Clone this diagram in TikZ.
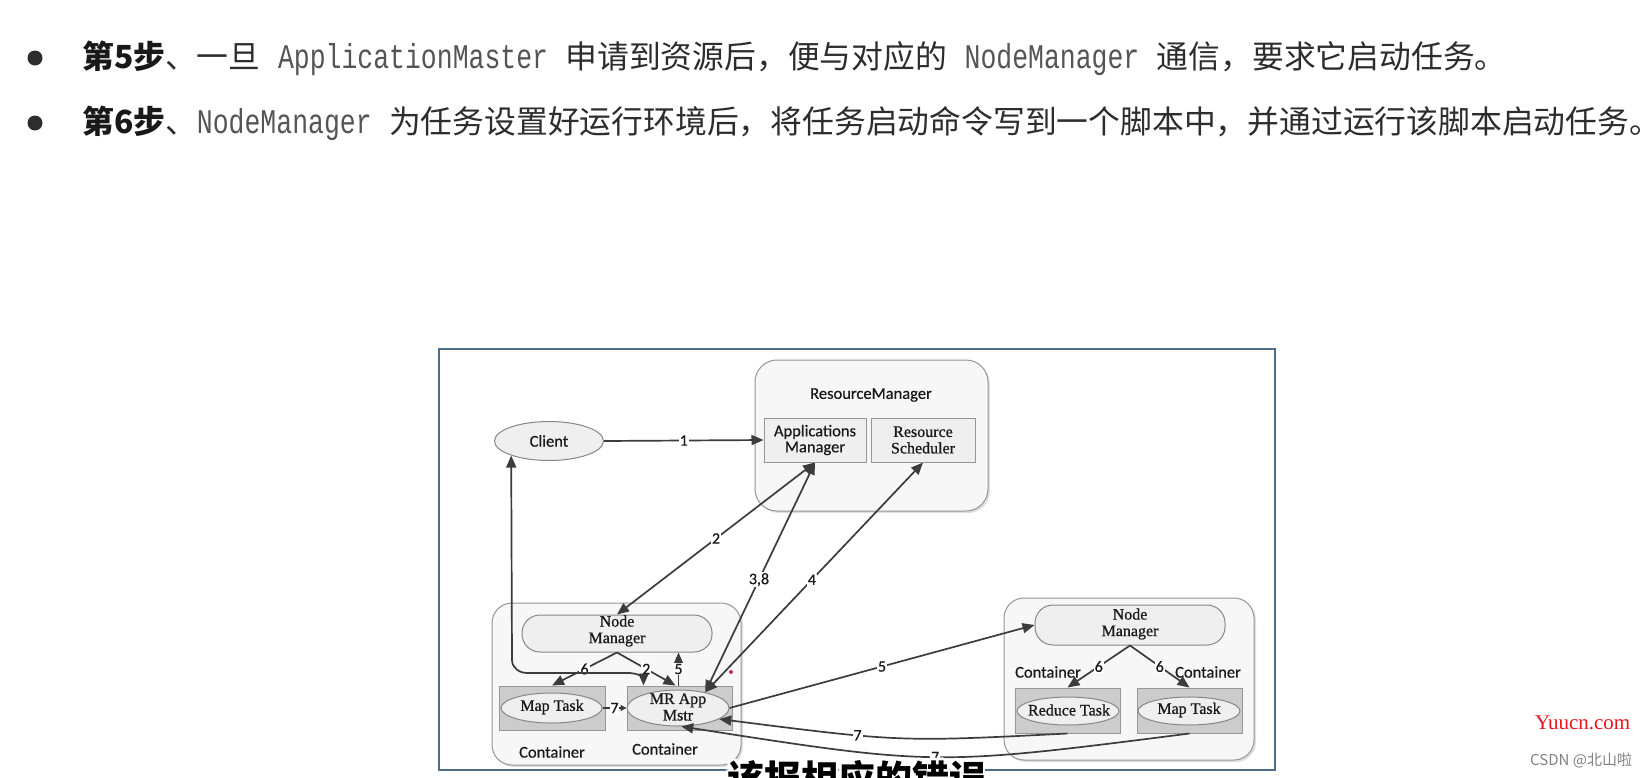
\documentclass[tikz,border=0pt]{standalone}
\usepackage{fontspec}
\setmainfont{Liberation Serif}
\newfontfamily\fcjk{Noto Sans CJK SC}
\newfontfamily\fmono{Liberation Mono}[FakeStretch=0.765]
\newfontfamily\fcal{Carlito}[FakeBold=0.6]
\newfontfamily\ftms{Liberation Serif}[FakeBold=0.8]
\newfontfamily\fwm{Liberation Serif}
\usetikzlibrary{arrows.meta,shapes.geometric,shadows,calc}
\definecolor{arrc}{RGB}{60,60,60}
\definecolor{txtc}{RGB}{25,25,25}
\definecolor{hdrc}{RGB}{45,45,45}
\definecolor{monoc}{RGB}{85,85,85}
\definecolor{framec}{RGB}{79,110,140}
\definecolor{boxc}{RGB}{150,150,150}
\definecolor{ellc}{RGB}{135,135,135}
\definecolor{bigf}{RGB}{247,247,247}
\definecolor{litef}{RGB}{239,239,239}
\definecolor{taskf}{RGB}{204,204,204}
\definecolor{wmred}{RGB}{235,20,30}
\definecolor{wmgray}{RGB}{130,130,130}
\definecolor{dotc}{RGB}{200,40,90}
\newcommand\hdrmono[1]{{\fmono\fontsize{34.6}{36}\selectfont\color{monoc}#1}}
\begin{document}
\begin{tikzpicture}[x=1pt,y=-1pt,
  >={Triangle[length=12pt,width=10pt]},
  arr/.style={draw=arrc,line width=1.7pt},
  sans/.style={font=\fcal\fontsize{16.5}{16.5}\selectfont,text=txtc,align=center},
  ser/.style={font=\ftms\fontsize{16}{16.5}\selectfont,text=txtc,align=center},
  lbl/.style={fill=white,inner sep=1pt,font=\fcal\fontsize{16}{16}\selectfont,text=txtc},
  bigbox/.style={draw=boxc,line width=1pt,fill=bigf,rounded corners=20pt,inner sep=0,
     drop shadow={shadow xshift=2pt,shadow yshift=-2pt,opacity=0.25}},
  inbox/.style={draw=boxc,line width=1pt,fill=litef,inner sep=0},
  taskbox/.style={draw=boxc,line width=1pt,fill=taskf,inner sep=0},
  ell/.style={ellipse,draw=ellc,line width=1pt,fill=litef,inner sep=0},
  nmbox/.style={draw=ellc,line width=1pt,fill=litef,rounded corners=18pt,inner sep=0},
  hdr/.style={anchor=west,inner sep=0,text=hdrc,font=\fcjk\fontsize{31.8}{36}\selectfont},
]
\useasboundingbox[fill=white] (0,0) rectangle (1644,777);

% header
\fill[hdrc] (35,58) circle (7.5);
\fill[hdrc] (35,123) circle (7.5);
\node[hdr] (h1) at (82,58) {{\bfseries\color{black!90}第5步}、一旦\hspace{0.55em}\hdrmono{ApplicationMaster}\hspace{0.55em}申请到资源后，便与对应的\hspace{0.55em}\hdrmono{NodeManager}\hspace{0.55em}通信，要求它启动任务。};
\node[hdr] (h2) at (82,123) {{\bfseries\color{black!90}第6步}、\hdrmono{NodeManager}\hspace{0.55em}为任务设置好运行环境后，将任务启动命令写到一个脚本中，并通过运行该脚本启动任务。};

% frame
\draw[framec,line width=2pt] (439,349) rectangle (1275,770);

% ResourceManager
\node[bigbox,rounded corners=22pt,minimum width=233pt,minimum height=151pt] (rm) at (871.5,435.5) {};
\node[sans] (rmt) at (871,395) {ResourceManager};
\node[inbox,minimum width=102pt,minimum height=44pt,sans,font=\fcal\fontsize{16.5}{16}\selectfont] (am) at (815,440) {Applications\\Manager};
\node[inbox,minimum width=104pt,minimum height=44pt,ser] (rs) at (923,440) {Resource\\Scheduler};

% Client
\node[ell,minimum width=109pt,minimum height=39pt,sans] (client) at (549,441) {Client};

% left container
\node[bigbox,minimum width=249pt,minimum height=162pt] (contL) at (616.5,684) {};
\node[nmbox,minimum width=190pt,minimum height=37pt] (nmL) at (617,633.5) {};
\node[ser] (nmLt) at (617,631) {Node\\Manager};
\node[taskbox,minimum width=106pt,minimum height=44pt] (mtbox) at (552,708) {};
\node[ell,minimum width=101pt,minimum height=30pt] (mte) at (551.5,708) {};
\node[ser] (mtt) at (552,707) {Map Task};
\node[taskbox,minimum width=105pt,minimum height=44pt] (mrbox) at (679.5,708) {};
\node[ell,minimum width=102pt,minimum height=36pt] (mre) at (678,708) {};
\node[ser] (mrt) at (678,707) {MR App\\Mstr};
\node[sans] (cl1) at (552,752) {Container};
\node[sans] (cl2) at (665,749) {Container};

% right container
\node[bigbox,minimum width=250pt,minimum height=162pt] (contR) at (1129,679) {};
\node[nmbox,minimum width=190pt,minimum height=40pt] (nmR) at (1130,625) {};
\node[ser] (nmRt) at (1130,624) {Node\\Manager};
\node[taskbox,minimum width=105pt,minimum height=45pt] (redbox) at (1067.5,710.5) {};
\node[ell,minimum width=102pt,minimum height=28pt] (rede) at (1068,711) {};
\node[ser] (redt) at (1069,710) {Reduce Task};
\node[taskbox,minimum width=105pt,minimum height=45pt] (mapbox) at (1189.5,710.5) {};
\node[ell,minimum width=102pt,minimum height=28pt] (mape) at (1189,711) {};
\node[ser] (mapt) at (1189,710) {Map Task};
\node[sans] (cr1) at (1048,672) {Container};
\node[sans] (cr2) at (1208,672) {Container};

% connectors
\draw[arr,->] (client.east) -- node[lbl]{1} (am.west);
\draw[arr,<->] (am.south) -- node[lbl,pos=0.5]{2} (nmL.north);
\draw[arr,<->] (am.south) -- node[lbl,pos=0.51]{3,8} (mre.30);
\draw[arr,<->] (rs.south) -- node[lbl,pos=0.51]{4} (mre.30);
\draw[arr,->] (mre.east) -- node[lbl]{5} (nmR.west);
\draw[arr,->] ([xshift=-1pt]mrbox.north) -- node[lbl]{5} ([xshift=-1pt]mrbox.north |- nmL.south);
\draw[arr,->] (nmL.south) -- node[lbl]{6} (mtbox.north);
\draw[arr,->] (nmL.south) -- node[lbl]{2} ([xshift=-4pt]mrbox.north);
\draw[arr,<->] (client.201) -- (512,660) to[out=-90,in=180] (527,673) -- (630,673)
   to[out=0,in=90] ([xshift=17pt]mrbox.north west);
\draw[arr,-{Triangle[length=6pt,width=6pt]}] (mte.east) -- node[lbl,inner sep=0.5pt]{7} (mre.west);
\draw[arr,->] (nmR.south) -- node[lbl]{6} (redbox.north);
\draw[arr,->] (nmR.south) -- node[lbl]{6} (mapbox.north);
\draw[arr,->] (redbox.south) .. controls (900,742) .. node[lbl,pos=0.65]{7} (mre.-15);
\draw[arr,->] (mapbox.south) .. controls (935,766) .. node[lbl,pos=0.5]{7} (mre.-80);

% small red dot
\fill[dotc] (731,672) circle (2);

% watermarks
\node[anchor=west,inner sep=0,text=wmred,font=\fwm\fontsize{21}{21}\selectfont] (wm1) at (1535,723) {Yuucn.com};
\node[anchor=west,inner sep=0,text=wmgray,font=\fcjk\fontsize{15}{15}\selectfont] (wm2) at (1530,760) {CSDN @北山啦};

% subtitle
\foreach \dx/\dy in {-2.5/0,2.5/0,0/-2.5,0/2.5,-1.8/-1.8,1.8/-1.8,-1.8/1.8,1.8/1.8}{
  \node[anchor=north west,inner sep=0,text=white,font=\fcjk\bfseries\fontsize{37}{37}\selectfont] at (727+\dx,760+\dy) {该报相应的错误};
}
\node[anchor=north west,inner sep=0,text=black,font=\fcjk\bfseries\fontsize{37}{37}\selectfont] (sub) at (727,760) {该报相应的错误};
\end{tikzpicture}
\end{document}
